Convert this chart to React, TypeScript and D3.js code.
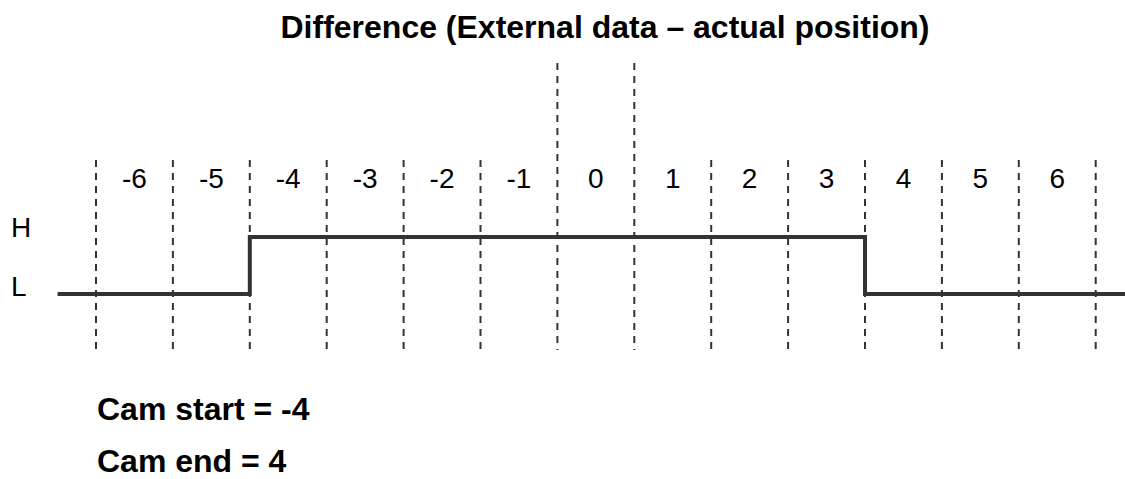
import React from "react";
import * as d3 from "d3";

const positions = [-6, -5, -4, -3, -2, -1, 0, 1, 2, 3, 4, 5, 6];
const boundaries = [-6.5, -5.5, -4.5, -3.5, -2.5, -1.5, -0.5, 0.5, 1.5, 2.5, 3.5, 4.5, 5.5, 6.5];
const tallBoundaries = [-0.5, 0.5];
const signalX = [-7, -6, -5, -4, -3, -2, -1, 0, 1, 2, 3, 4, 5, 6, 7];
const signalLevel = ["L", "L", "L", "H", "H", "H", "H", "H", "H", "H", "H", "L", "L", "L", "L"];
const levels = ["L", "H"];
const title = "Difference (External data \u2013 actual position)";
const camStart = -4;
const camEnd = 4;

const W = 1125;
const H = 479;

export default function App() {
  const x = d3.scaleLinear().domain([-6.5, 6.5]).range([96, 1095.7]);
  const y = d3.scalePoint<string>().domain(levels).range([294, 237]);
  const pts = signalX.map((v, i) => [x(v), y(signalLevel[i])!] as [number, number]);
  const line = d3.line().curve(d3.curveStep)(pts) || "";
  const font = "Liberation Sans, Arial, Helvetica, sans-serif";
  return (
    <svg
      width={W}
      height={H}
      style={{ position: "absolute", left: 0, top: 0, background: "#fff" }}
      fontFamily={font}
    >
      <text x={605} y={38} textAnchor="middle" fontSize={32} fontWeight="bold" fill="#000">
        {title}
      </text>
      {boundaries.map((b) => (
        <line
          key={b}
          x1={x(b)}
          x2={x(b)}
          y1={tallBoundaries.includes(b) ? 63 : 160}
          y2={350}
          stroke="#333"
          strokeWidth={2}
          strokeDasharray="7 6"
        />
      ))}
      {positions.map((p) => (
        <text key={p} x={x(p)} y={188} textAnchor="middle" fontSize={28} fill="#000">
          {p}
        </text>
      ))}
      {levels.map((l) => (
        <text key={l} x={11} y={y(l)! + (l === "H" ? 0 : 2)} fontSize={28} fill="#000">
          {l}
        </text>
      ))}
      <path d={line} fill="none" stroke="#333" strokeWidth={4} />
      <text x={97} y={420} fontSize={32} fontWeight="bold" fill="#000">
        {`Cam start = ${camStart}`}
      </text>
      <text x={97} y={472} fontSize={32} fontWeight="bold" fill="#000">
        {`Cam end = ${camEnd}`}
      </text>
    </svg>
  );
}
